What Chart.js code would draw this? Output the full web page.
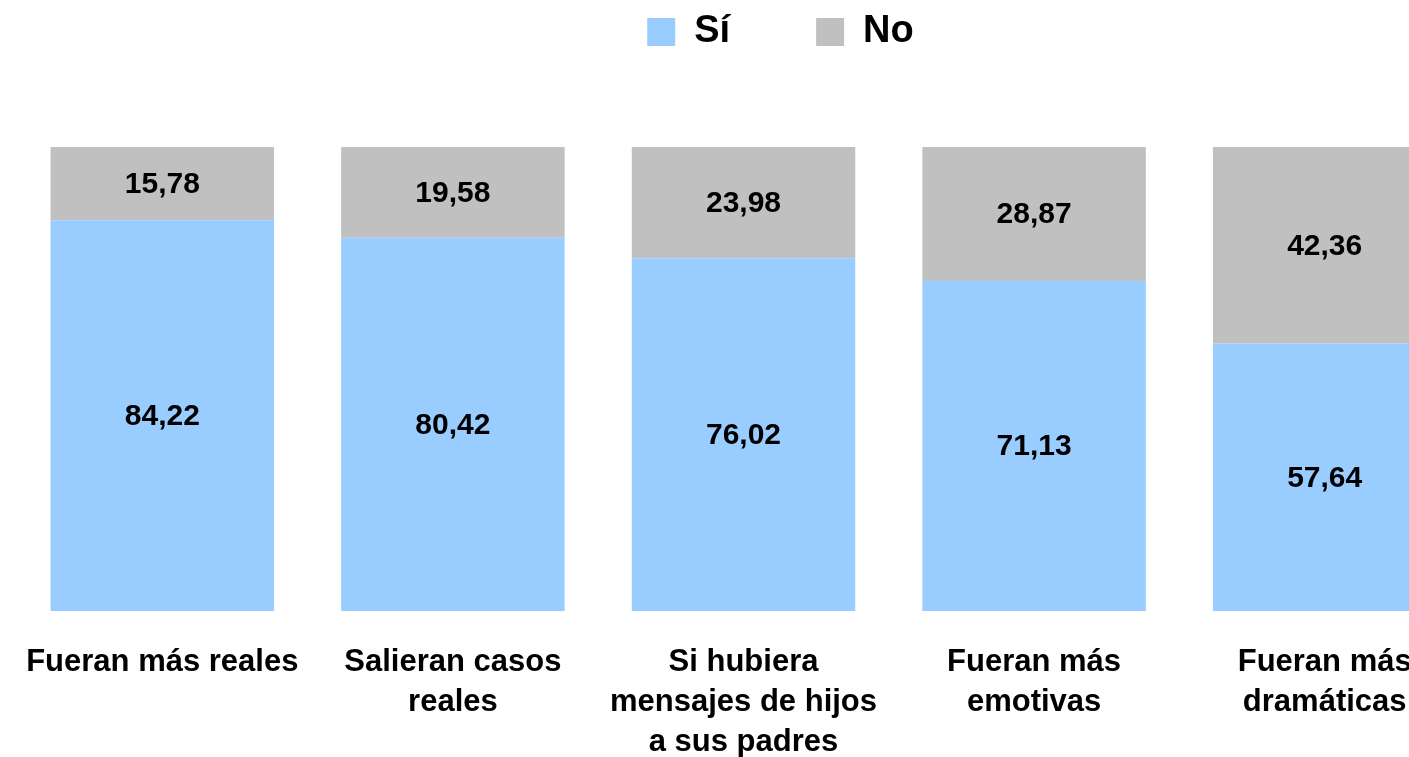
<!DOCTYPE html>
<html>
<head>
<meta charset="utf-8">
<script src="https://cdn.jsdelivr.net/npm/chart.js@4"></script>
<style>
  html, body { margin: 0; padding: 0; width: 1409px; height: 757px; overflow: hidden; background: #fff; }
  #wrap { position: relative; width: 1409px; height: 757px; overflow: hidden; }
  #c { position: absolute; left: 0; top: -73px; }
</style>
</head>
<body>
<div id="wrap"><canvas id="c" width="1544" height="866"></canvas></div>
<script>
const categories = [
  ["Fueran más reales"],
  ["Salieran casos", "reales"],
  ["Si hubiera", "mensajes de hijos", "a sus padres"],
  ["Fueran más", "emotivas"],
  ["Fueran más", "dramáticas"]
];
const siValues = [84.22, 80.42, 76.02, 71.13, 57.64];
const noValues = [15.78, 19.58, 23.98, 28.87, 42.36];
const seriesNames = ["Sí", "No"];

const FONT = "Arial, 'Liberation Sans', sans-serif";

const valueLabels = {
  id: 'valueLabels',
  afterDatasetsDraw(chart) {
    const ctx = chart.ctx;
    ctx.save();
    ctx.font = "bold 30px " + FONT;
    ctx.fillStyle = '#000';
    ctx.textAlign = 'center';
    ctx.textBaseline = 'middle';
    chart.data.datasets.forEach((ds, di) => {
      const meta = chart.getDatasetMeta(di);
      meta.data.forEach((el, i) => {
        const p = el.getProps(['x', 'y', 'base'], true);
        const v = ds.data[i];
        ctx.fillText(v.toFixed(2).replace('.', ','), p.x, (p.y + p.base) / 2 + 1);
      });
    });
    ctx.restore();
  }
};

new Chart(document.getElementById('c'), {
  type: 'bar',
  data: {
    labels: categories,
    datasets: [
      { label: seriesNames[0], data: siValues, backgroundColor: '#99CCFF', borderWidth: 0,
        categoryPercentage: 1, barPercentage: 0.769 },
      { label: seriesNames[1], data: noValues, backgroundColor: '#C0C0C0', borderWidth: 0,
        categoryPercentage: 1, barPercentage: 0.769 }
    ]
  },
  options: {
    responsive: false,
    animation: false,
    devicePixelRatio: 1,
    layout: { padding: { left: 17, right: 0, top: 0, bottom: 0 } },
    plugins: {
      legend: {
        display: true,
        position: 'top',
        align: 'center',
        labels: {
          font: { family: FONT, size: 38, weight: 'bold' },
          color: '#000',
          boxWidth: 28,
          boxHeight: 28,
          padding: 86
        }
      },
      tooltip: { enabled: false },
      title: { display: false }
    },
    scales: {
      x: {
        stacked: true,
        grid: { display: false, drawTicks: false },
        border: { display: false },
        ticks: {
          color: '#000',
          font: { family: FONT, size: 31, weight: 'bold', lineHeight: 1.29 },
          padding: 31,
          maxRotation: 0,
          minRotation: 0,
          autoSkip: false
        },
        afterFit: s => { s.paddingLeft = 0; s.paddingRight = 0; }
      },
      xTop: {
        type: 'linear',
        position: 'top',
        display: true,
        ticks: { display: false },
        grid: { display: false, drawTicks: false },
        border: { display: false },
        afterFit: s => { s.height = 86; }
      },
      y: {
        stacked: true,
        min: 0,
        max: 100,
        position: 'right',
        display: true,
        ticks: { display: false },
        grid: { display: false, drawTicks: false },
        border: { display: false },
        afterFit: s => { s.width = 74; }
      }
    }
  },
  plugins: [valueLabels]
});
</script>
</body>
</html>
